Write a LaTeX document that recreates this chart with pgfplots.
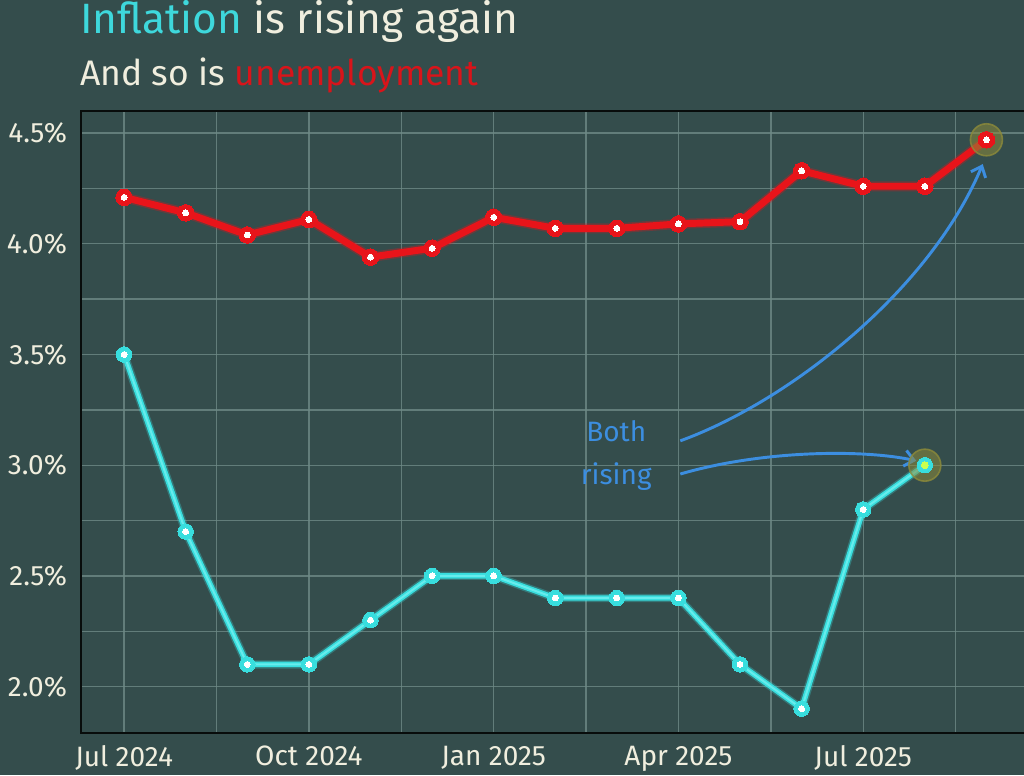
\documentclass[border=0pt]{standalone}
\usepackage{fontspec}
\setmainfont{Fira Sans}
\usepackage{pgfplots}
\pgfplotsset{compat=1.18}
\usetikzlibrary{arrows.meta}
\definecolor{bg}{HTML}{344D4C}
\definecolor{cream}{HTML}{F0EEDE}
\definecolor{cyanT}{HTML}{3ED8DC}
\definecolor{redT}{HTML}{D8141A}
\definecolor{redL}{HTML}{E8141A}
\definecolor{cyanL}{HTML}{38DEDE}
\definecolor{cyanC}{HTML}{7CF2F2}
\definecolor{gridc}{HTML}{6E8A86}
\definecolor{arrowc}{HTML}{3C8EE0}
\definecolor{hilite}{HTML}{8C8A3A}
\begin{document}
\begin{tikzpicture}
\path[use as bounding box, fill=bg] (0,0) rectangle (768pt,-581.25pt);
\node[anchor=base west, inner sep=0pt, font=\fontsize{31.8}{32}\selectfont] at (60pt,-24.75pt) {\textcolor{cyanT}{Inflation} \textcolor{cream}{is rising again}};
\node[anchor=base west, inner sep=0pt, font=\fontsize{26.6}{27}\selectfont] at (60pt,-63.75pt) {\textcolor{cream}{And so is} \textcolor{redT}{unemployment}};
\begin{axis}[
  at={(60.75pt,-549.75pt)}, anchor=south west,
  width=711.4pt, height=466.5pt, scale only axis,
  xmin=-0.7, xmax=14.7, ymin=1.79, ymax=4.6,
  xtick={0,3,6,9,12},
  xticklabels={Jul 2024,Oct 2024,Jan 2025,Apr 2025,Jul 2025},
  minor xtick={1.5,4.5,7.5,10.5,13.5},
  ytick={2,2.5,3,3.5,4,4.5},
  yticklabels={2.0\%,2.5\%,3.0\%,3.5\%,4.0\%,4.5\%},
  minor ytick={1.75,2.25,2.75,3.25,3.75,4.25},
  grid=both,
  grid style={draw=gridc, line width=1pt, opacity=0.8},
  minor grid style={draw=gridc, line width=1pt, opacity=0.8},
  major tick length=0pt, minor tick length=0pt,
  axis line style={draw=black!85!bg, line width=1.5pt},
  tick label style={font=\fontsize{21}{21}\selectfont, text=cream},
  yticklabel style={xshift=-7pt},
  xticklabel style={yshift=-6pt},
  /pgf/number format/assume math mode=true,
  clip=false,
]
% highlight circles
\addplot[only marks, mark=*, mark size=12pt, mark options={fill=hilite, fill opacity=0.55, draw=hilite, draw opacity=0.8, line width=1.2pt}] coordinates {(14,4.47) (13,3.0)};
% red glow + line
\addplot[draw=redL, line width=7.5pt, opacity=0.3, line join=round] coordinates {
(0,4.21) (1,4.14) (2,4.04) (3,4.11) (4,3.94) (5,3.98) (6,4.12) (7,4.07) (8,4.07) (9,4.09) (10,4.10) (11,4.33) (12,4.26) (13,4.26) (14,4.47)};
\addplot[draw=redL, line width=5.2pt, line join=round] coordinates {
(0,4.21) (1,4.14) (2,4.04) (3,4.11) (4,3.94) (5,3.98) (6,4.12) (7,4.07) (8,4.07) (9,4.09) (10,4.10) (11,4.33) (12,4.26) (13,4.26) (14,4.47)};
\addplot[only marks, mark=*, mark size=6.2pt, mark options={fill=redL, draw=redL, line width=0pt}] coordinates {
(0,4.21) (1,4.14) (2,4.04) (3,4.11) (4,3.94) (5,3.98) (6,4.12) (7,4.07) (8,4.07) (9,4.09) (10,4.10) (11,4.33) (12,4.26) (13,4.26) (14,4.47)};
\addplot[only marks, mark=*, mark size=2.2pt, mark options={fill=white, draw=white, line width=0pt}] coordinates {
(0,4.21) (1,4.14) (2,4.04) (3,4.11) (4,3.94) (5,3.98) (6,4.12) (7,4.07) (8,4.07) (9,4.09) (10,4.10) (11,4.33) (12,4.26) (13,4.26) (14,4.47)};
% cyan glow + line
\addplot[draw=cyanL, line width=6.2pt, opacity=0.3, line join=round] coordinates {
(0,3.5) (1,2.7) (2,2.1) (3,2.1) (4,2.3) (5,2.5) (6,2.5) (7,2.4) (8,2.4) (9,2.4) (10,2.1) (11,1.9) (12,2.8) (13,3.0)};
\addplot[draw=cyanL, line width=4pt, line join=round] coordinates {
(0,3.5) (1,2.7) (2,2.1) (3,2.1) (4,2.3) (5,2.5) (6,2.5) (7,2.4) (8,2.4) (9,2.4) (10,2.1) (11,1.9) (12,2.8) (13,3.0)};
\addplot[draw=cyanC, line width=1.5pt, line join=round, opacity=0.7] coordinates {
(0,3.5) (1,2.7) (2,2.1) (3,2.1) (4,2.3) (5,2.5) (6,2.5) (7,2.4) (8,2.4) (9,2.4) (10,2.1) (11,1.9) (12,2.8) (13,3.0)};
\addplot[only marks, mark=*, mark size=5.8pt, mark options={fill=cyanL, draw=cyanL, line width=0pt}] coordinates {
(0,3.5) (1,2.7) (2,2.1) (3,2.1) (4,2.3) (5,2.5) (6,2.5) (7,2.4) (8,2.4) (9,2.4) (10,2.1) (11,1.9) (12,2.8) (13,3.0)};
\addplot[only marks, mark=*, mark size=2.2pt, mark options={fill=white, draw=white, line width=0pt}] coordinates {
(0,3.5) (1,2.7) (2,2.1) (3,2.1) (4,2.3) (5,2.5) (6,2.5) (7,2.4) (8,2.4) (9,2.4) (10,2.1) (11,1.9) (12,2.8)};
\addplot[only marks, mark=*, mark size=2.6pt, mark options={fill=green!30!yellow!70!white, draw=green!30!yellow!70!white, line width=0pt}] coordinates {(13,3.0)};
% annotation
\node[anchor=base, text=arrowc, font=\fontsize{21}{21}\selectfont, inner sep=0pt] at (axis cs:7.99,3.106) {Both};
\node[anchor=base, text=arrowc, font=\fontsize{21}{21}\selectfont, inner sep=0pt] at (axis cs:7.99,2.912) {rising};
\draw[arrowc, line width=2.2pt, -{Straight Barb[length=7pt, width=12pt, line width=2.2pt]}] (axis cs:9.03,3.11) .. controls (axis cs:10.81,3.29) and (axis cs:13.08,3.79) .. (axis cs:13.94,4.36);
\draw[arrowc, line width=2.2pt, -{Straight Barb[length=7pt, width=12pt, line width=2.2pt]}] (axis cs:9.03,2.96) .. controls (axis cs:10.32,3.065) and (axis cs:11.95,3.074) .. (axis cs:12.86,3.02);
\end{axis}
\end{tikzpicture}
\end{document}
